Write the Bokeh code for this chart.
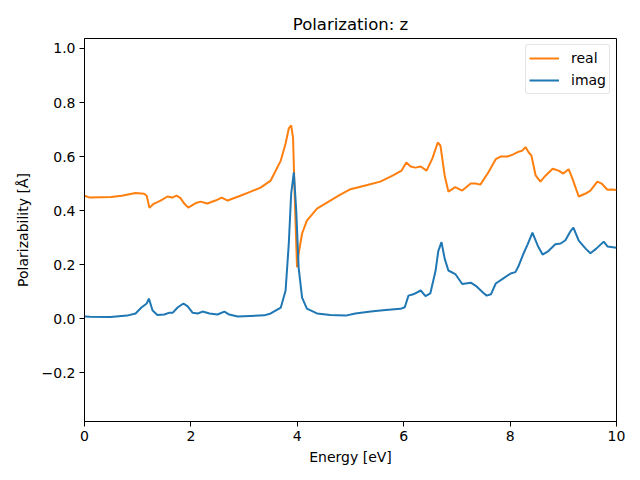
from bokeh.plotting import figure
from bokeh.models import FixedTicker, Range1d, Legend, LegendItem
from bokeh.embed import file_html
from bokeh.resources import INLINE

energy_real = [0.0, 0.1, 0.5, 0.7, 0.96, 1.12, 1.17, 1.22, 1.3, 1.43, 1.56, 1.65, 1.73, 1.8, 1.88, 1.95,
               2.1, 2.18, 2.31, 2.46, 2.58, 2.69, 2.93, 3.1, 3.31, 3.5, 3.69, 3.78, 3.84, 3.885, 3.92,
               3.95, 3.995, 4.025, 4.09, 4.18, 4.37, 4.62, 4.8, 5.0, 5.28, 5.56, 5.8, 5.96, 6.05, 6.13,
               6.22, 6.32, 6.43, 6.54, 6.64, 6.69, 6.77, 6.84, 6.97, 7.1, 7.26, 7.35, 7.44, 7.59,
               7.73, 7.82, 7.95, 8.05, 8.16, 8.23, 8.29, 8.35, 8.4, 8.48, 8.57, 8.67, 8.8, 8.91, 9.0,
               9.1, 9.17, 9.29, 9.42, 9.51, 9.64, 9.72, 9.83, 9.92, 10.0]
real = [0.455, 0.448, 0.450, 0.455, 0.465, 0.462, 0.455, 0.410, 0.425, 0.437, 0.452, 0.448, 0.455,
        0.447, 0.425, 0.411, 0.428, 0.433, 0.426, 0.437, 0.448, 0.437, 0.455, 0.468, 0.485, 0.511,
        0.585, 0.648, 0.704, 0.715, 0.670, 0.463, 0.190, 0.240, 0.315, 0.363, 0.407, 0.437, 0.458,
        0.479, 0.493, 0.507, 0.530, 0.548, 0.578, 0.563, 0.559, 0.563, 0.548, 0.593, 0.652, 0.641,
        0.530, 0.470, 0.487, 0.474, 0.500, 0.500, 0.496, 0.541, 0.590, 0.600, 0.600, 0.607, 0.618,
        0.622, 0.635, 0.615, 0.604, 0.530, 0.507, 0.530, 0.555, 0.548, 0.537, 0.553, 0.519, 0.452,
        0.463, 0.474, 0.507, 0.500, 0.477, 0.478, 0.476]

energy_imag = [0.0, 0.1, 0.49, 0.8, 0.96, 1.07, 1.17, 1.21, 1.28, 1.37, 1.5, 1.6, 1.66, 1.75, 1.86,
               1.94, 2.03, 2.13, 2.22, 2.35, 2.5, 2.63, 2.72, 2.88, 3.38, 3.5, 3.69, 3.78, 3.84,
               3.885, 3.935, 3.98, 4.025, 4.09, 4.18, 4.37, 4.62, 4.91, 5.09, 5.38, 5.66, 5.94,
               6.02, 6.09, 6.18, 6.32, 6.41, 6.5, 6.6, 6.65, 6.71, 6.77, 6.84, 6.97, 7.1, 7.26,
               7.37, 7.5, 7.56, 7.64, 7.73, 7.88, 8.01, 8.1, 8.16, 8.25, 8.33, 8.42, 8.52, 8.61,
               8.72, 8.85, 8.95, 9.04, 9.14, 9.19, 9.29, 9.42, 9.51, 9.62, 9.76, 9.83, 10.0]
imag = [0.008, 0.007, 0.006, 0.011, 0.019, 0.041, 0.056, 0.074, 0.030, 0.013, 0.015, 0.022, 0.022,
        0.041, 0.056, 0.045, 0.022, 0.019, 0.026, 0.019, 0.015, 0.026, 0.015, 0.008, 0.012,
        0.019, 0.041, 0.104, 0.278, 0.463, 0.541, 0.400, 0.189, 0.078, 0.037, 0.019, 0.013,
        0.011, 0.019, 0.026, 0.032, 0.036, 0.042, 0.085, 0.090, 0.104, 0.083, 0.093, 0.178, 0.25,
        0.283, 0.222, 0.178, 0.165, 0.128, 0.133, 0.119, 0.095, 0.085, 0.090, 0.13, 0.150, 0.167,
        0.172, 0.195, 0.240, 0.275, 0.318, 0.27, 0.237, 0.25, 0.275, 0.278, 0.290, 0.325, 0.337,
        0.289, 0.259, 0.242, 0.259, 0.285, 0.267, 0.262]

x_ticks = [0, 2, 4, 6, 8, 10]
y_ticks = [-0.2, 0.0, 0.2, 0.4, 0.6, 0.8, 1.0]
y_tick_labels = ["\u22120.2", "0.0", "0.2", "0.4", "0.6", "0.8", "1.0"]

FONT = "DejaVu Sans"

p = figure(width=640, height=480, output_backend="svg", toolbar_location=None,
           x_range=Range1d(0, 10), y_range=Range1d(-0.381, 1.037),
           min_border_left=84, min_border_right=24, min_border_top=38, min_border_bottom=59)
p.title.text = "Polarization: z"
p.title.align = "center"
p.title.text_font = FONT
p.title.text_font_size = "16.5px"
p.title.text_font_style = "normal"
p.title.text_color = "black"
p.title.offset = 0

r1 = p.line(energy_real, real, line_color="#ff7f0e", line_width=2)
r2 = p.line(energy_imag, imag, line_color="#1f77b4", line_width=2)

p.xgrid.visible = False
p.ygrid.visible = False
p.outline_line_color = "black"
p.outline_line_alpha = 1
p.outline_line_width = 1

for ax in (p.xaxis[0], p.yaxis[0]):
    ax.major_label_text_font = FONT
    ax.major_label_text_font_size = "14px"
    ax.major_label_text_color = "black"
    ax.axis_label_text_font = FONT
    ax.axis_label_text_font_size = "14px"
    ax.axis_label_text_font_style = "normal"
    ax.axis_label_text_color = "black"
    ax.axis_line_color = "black"
    ax.major_tick_line_color = "black"
    ax.major_tick_out = 5
    ax.major_tick_in = 0
    ax.minor_tick_line_color = None
    ax.major_label_standoff = 4

p.xaxis.ticker = FixedTicker(ticks=x_ticks)
p.yaxis.ticker = FixedTicker(ticks=y_ticks)
p.yaxis.major_label_overrides = {t: l for t, l in zip(y_ticks, y_tick_labels)}
p.xaxis.axis_label = "Energy [eV]"
p.yaxis.axis_label = "Polarizability [Å]"
p.xaxis.axis_label_standoff = 5
p.yaxis.axis_label_standoff = 8

legend = Legend(items=[LegendItem(label="real", renderers=[r1]),
                       LegendItem(label="imag", renderers=[r2])],
                location="top_right")
legend.label_text_font = FONT
legend.label_text_font_size = "14px"
legend.label_text_color = "black"
legend.border_line_color = "#cccccc"
legend.border_line_width = 1
legend.border_radius = 3
legend.glyph_width = 30
legend.glyph_height = 20
legend.label_height = 20
legend.spacing = 2
legend.padding = 3
legend.margin = 6
legend.label_standoff = 12
p.add_layout(legend)

open("out.html", "w").write(file_html(p, INLINE))
